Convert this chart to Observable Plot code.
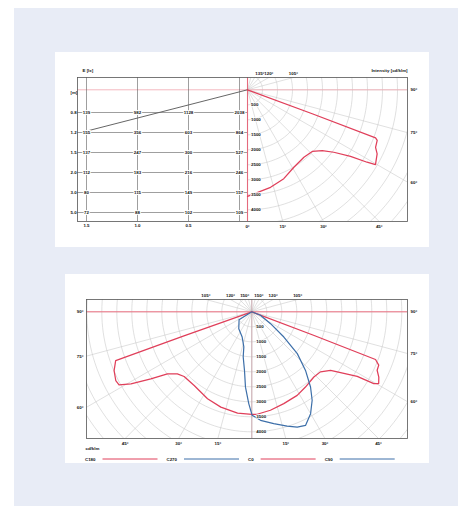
<!DOCTYPE html>
<html><head><meta charset="utf-8">
<script src="https://cdn.jsdelivr.net/npm/d3@7"></script>
<script src="https://cdn.jsdelivr.net/npm/@observablehq/plot@0.6"></script>
<style>
html,body{margin:0;padding:0;background:#fff;}
body{position:relative;width:475px;height:506px;overflow:hidden;}
#bg{position:absolute;left:14px;top:8px;width:444px;height:498px;background:#e8ecf6;}
.panel{position:absolute;background:#fff;}
#p1{left:55px;top:52px;width:374px;height:195px;}
#p2{left:65px;top:274px;width:364px;height:189px;}
.panel > svg{position:absolute;left:0;top:0;}
</style></head><body>
<div id="bg"></div>
<div class="panel" id="p1"></div>
<div class="panel" id="p2"></div>
<script>
// ---------- DATA ----------
// illuminance table (top-left)
const tableRows = ["0.8", "1.2", "1.5", "2.0", "3.0", "5.0"];
const tableCols = ["1.5", "1.0", "0.5", "0"];
const tableValues = [
  [139, 982, 1128, 2038],
  [155, 356, 603, 864],
  [137, 247, 300, 527],
  [112, 183, 216, 246],
  [80, 115, 149, 157],
  [72, 88, 102, 109]
];
const beamAngle = -75.6;      // beam edge (deg)
const beamReach = 5680;

// top polar curve (cd/klm)
const topAngles =    [0, 13.3, 22.2, 30.9, 39.9, 46.4, 50.9, 54.1, 57.1, 58.8, 59.7, 63.7, 65.8, 68.7, 69.4, 69.7, 70];
const topIntensity = [3550, 3340, 3200, 3010, 2930, 2980, 3210, 3550, 4090, 4660, 4940, 4820, 4680, 4640, 4560, 2300, 0];

// bottom polar curves (cd/klm)
const redAngles =    [-71, -70.5, -70.3, -66.9, -63.2, -61.2, -59.2, -56.4, -53.7, -50.2, -46.3, -38, -27, -18, -8, 0, 3, 10.7, 19.2, 28.5, 35.5, 43.6, 48.8, 53.4, 58.5, 59.5, 60.5, 62.8, 65, 67.2, 68.9, 69.2, 69.5];
const redIntensity = [0, 2400, 4820, 4990, 5080, 5050, 4690, 4040, 3490, 3230, 3120, 3120, 3250, 3340, 3410, 3420, 3420, 3340, 3240, 3170, 3080, 3000, 3040, 3270, 4120, 4720, 4860, 4760, 4610, 4590, 4420, 2200, 0];
const blueAngles =    [-60, -58, -37.7, -20.9, -12.8, -10.8, -7.1, -4.8, -1.9, 0.2, 4.6, 11.1, 17.2, 21.5, 25.3, 30, 34.3, 38, 42.5, 47.4, 51.8, 57.7, 68, 75];
const blueIntensity = [0, 500, 710, 900, 1200, 1530, 1970, 2520, 3060, 3450, 3630, 3800, 3990, 4130, 4190, 3920, 3570, 3180, 2650, 2060, 1360, 740, 310, 0];

// ticks
const intensityTicks = [500, 1000, 1500, 2000, 2500, 3000, 3500, 4000];
const ringValues = d3.range(500, 7501, 500);
const topBottomTicks = [0, 15, 30, 45];
const topSideTicks = [60, 75, 90];
const topTopTicks = [105, 120, 135];
const botBottomTicks = [-45, -30, -15, 15, 30, 45];
const botSideTicks = [60, 75, 90];
const botTopTicks = [-150, -120, -105, 105, 120, 150];

const legendNames = ["C180", "C270", "C0", "C90"];

// ---------- STYLE ----------
const RED = "#e03f5a", BLUE = "#3d6fa9", GRID = "#c6c6c6", INK = "#111";
const legendColors = [RED, BLUE, RED, BLUE];
const FONT = "'Liberation Sans', Arial, sans-serif";
const baseStyle = {background: "transparent", fontFamily: FONT, fontSize: "4.4px", fontWeight: "bold", overflow: "visible"};

const rad = Math.PI / 180;
const toXY = (a, v) => ({x: v * Math.sin(a * rad), y: -v * Math.cos(a * rad)});
const rings = (a0, a1) => ringValues.flatMap(R => d3.range(a0, a1 + 0.001, 2).map(a => ({R, ...toXY(a, R)})));
const spokes = (angles) => angles.flatMap(a => [{a, x: 0, y: 0}, {a, ...toXY(a, 9000)}]);
const curve = (angles, vals) => angles.map((a, i) => toXY(a, vals[i]));

function angleLabels(dom, bottom, side, top, bothSides) {
  const [xMin, xMax] = dom.x, [yMin, yMax] = dom.y;
  const lab = a => `${Math.abs(a)}°`;
  const marks = [];
  marks.push(Plot.text(bottom, {x: a => -yMin * Math.tan(a * rad), y: () => yMin, text: lab, dy: 5, fill: INK}));
  marks.push(Plot.text(side, {x: () => xMax, y: a => -xMax * Math.cos(a * rad) / Math.sin(a * rad), text: lab, dx: 3, textAnchor: "start", fill: INK}));
  if (bothSides) marks.push(Plot.text(side, {x: () => xMin, y: a => xMin * Math.cos(a * rad) / Math.sin(a * rad), text: lab, dx: -3, textAnchor: "end", fill: INK}));
  marks.push(Plot.text(top, {x: a => Math.sin(a * rad) * yMax / -Math.cos(a * rad), y: () => yMax, text: lab, dy: -4, fill: INK}));
  return marks;
}

// ---------- TOP PANEL ----------
const topDom = {x: [-5667, 5333], y: [-4390, 410]};
const p1 = document.getElementById("p1");
p1.append(Plot.plot({
  width: 374, height: 195, marginLeft: 22, marginRight: 22, marginTop: 25, marginBottom: 26,
  x: {domain: topDom.x, axis: null}, y: {domain: topDom.y, axis: null},
  style: baseStyle,
  marks: [
    Plot.line(rings(0, 180), {x: "x", y: "y", z: "R", stroke: GRID, strokeWidth: 0.55, clip: true}),
    Plot.line(spokes(d3.range(0, 181, 15)), {x: "x", y: "y", z: "a", stroke: GRID, strokeWidth: 0.55, clip: true}),
    Plot.ruleY([0], {stroke: "#f4b0b9", strokeWidth: 0.9}),
    Plot.ruleX([0], {stroke: "#e56a7d", strokeWidth: 1.1}),
    Plot.line([toXY(beamAngle, 0), toXY(beamAngle, beamReach)], {x: "x", y: "y", stroke: "#333", strokeWidth: 0.75}),
    Plot.line(curve(topAngles, topIntensity), {x: "x", y: "y", stroke: RED, strokeWidth: 1.25}),
    Plot.text(intensityTicks, {x: () => 0, y: d => -d, text: d => String(d), dx: 3.5, textAnchor: "start", fill: INK, stroke: "white", strokeWidth: 1.5, paintOrder: "stroke"}),
    ...angleLabels(topDom, topBottomTicks, topSideTicks, topTopTicks, false),
    Plot.text(["Intensity [cd/klm]"], {frameAnchor: "top-right", dy: -9, textAnchor: "end", fill: INK}),
    Plot.frame({stroke: "#5e5e5e", strokeWidth: 0.85})
  ]
}));

const cells = tableRows.flatMap((r, i) => tableCols.map((c, j) => ({row: r, col: c, value: tableValues[i][j]})));
p1.append(Plot.plot({
  width: 374, height: 195, marginLeft: 22, marginRight: 182, marginTop: 25, marginBottom: 26,
  x: {type: "point", domain: tableCols, range: [31, 184], padding: 0, axis: null},
  y: {type: "point", domain: ["[m]", ...tableRows], range: [37.3, 162], padding: 0, axis: null},
  style: baseStyle,
  marks: [
    Plot.ruleX(tableCols, {stroke: "#5e5e5e", strokeWidth: 0.6}),
    Plot.ruleY(tableRows, {stroke: "#5e5e5e", strokeWidth: 0.6}),
    Plot.text(cells, {x: "col", y: "row", text: d => String(d.value), fill: INK, stroke: "white", strokeWidth: 2, paintOrder: "stroke"}),
    Plot.text(["[m]", ...tableRows], {y: d => d, text: d => d, frameAnchor: "left", dx: -7, fill: INK}),
    Plot.text(tableCols.slice(0, 3), {x: d => d, text: d => d, frameAnchor: "bottom", dy: 5, fill: INK}),
    Plot.text(["E [lx]"], {frameAnchor: "top-left", dx: 5, dy: -9, textAnchor: "start", fill: INK})
  ]
}));

// ---------- BOTTOM PANEL ----------
const botDom = {x: [-5510, 5190], y: [-4223, 410]};
const p2 = document.getElementById("p2");
p2.append(Plot.plot({
  width: 364, height: 189, marginLeft: 21, marginRight: 22, marginTop: 25, marginBottom: 25,
  x: {domain: botDom.x, axis: null}, y: {domain: botDom.y, axis: null},
  style: baseStyle,
  marks: [
    Plot.line(rings(-180, 180), {x: "x", y: "y", z: "R", stroke: GRID, strokeWidth: 0.55, clip: true}),
    Plot.line(spokes(d3.range(-180, 180, 15)), {x: "x", y: "y", z: "a", stroke: GRID, strokeWidth: 0.55, clip: true}),
    Plot.ruleX([0], {stroke: "#cba6ad", strokeWidth: 0.9}),
    Plot.ruleY([0], {stroke: "#ee7383", strokeWidth: 1}),
    Plot.line(curve(redAngles, redIntensity), {x: "x", y: "y", stroke: RED, strokeWidth: 1.25}),
    Plot.line(curve(blueAngles, blueIntensity), {x: "x", y: "y", stroke: BLUE, strokeWidth: 1.2}),
    Plot.text(intensityTicks, {x: () => 0, y: d => -d, text: d => String(d), dx: 4.5, textAnchor: "start", fill: INK, stroke: "white", strokeWidth: 1.5, paintOrder: "stroke"}),
    ...angleLabels(botDom, botBottomTicks, botSideTicks, botTopTicks, true),
    Plot.text(["cd/klm"], {frameAnchor: "bottom-left", dx: -1, dy: 11, textAnchor: "start", fill: INK}),
    Plot.frame({stroke: "#5e5e5e", strokeWidth: 0.85})
  ]
}));

// legend below the bottom chart
const lg = d3.select("#p2").append("svg")
  .attr("width", 364).attr("height", 12)
  .style("position", "absolute").style("left", "0px").style("top", "179px");
let cx = 20;
legendNames.forEach((name, i) => {
  const t = lg.append("text").attr("x", cx).attr("y", 6).attr("dy", "0.35em")
    .attr("font-family", FONT).attr("font-size", 4.4).attr("font-weight", "bold").attr("fill", INK).text(name);
  cx += t.node().getComputedTextLength() + 7;
  lg.append("line").attr("x1", cx).attr("x2", cx + 55).attr("y1", 6).attr("y2", 6)
    .attr("stroke", legendColors[i]).attr("stroke-width", 1);
  cx += 55 + 9;
});
</script>
</body></html>
